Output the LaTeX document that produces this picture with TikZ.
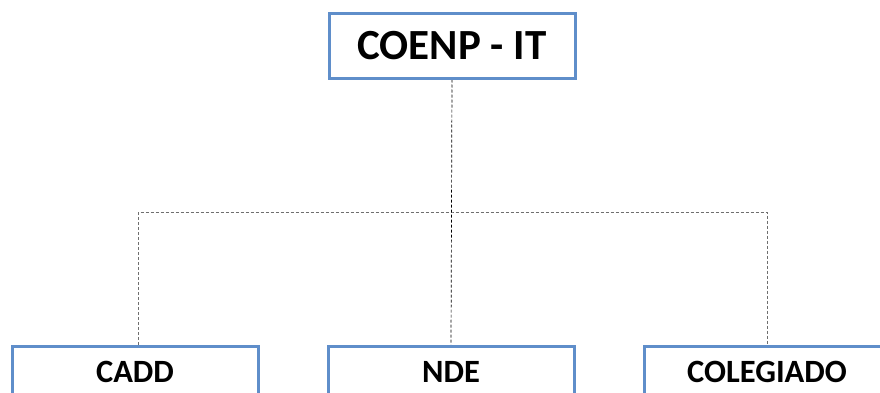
\documentclass[tikz,border=0pt]{standalone}
\usepackage{fontspec}
\setmainfont{Carlito}
\usepackage{tikz}
\usetikzlibrary{positioning}
\usepackage{xcolor}
\definecolor{boxblue}{RGB}{95,142,202}
\definecolor{linegray}{RGB}{110,110,110}

\begin{document}
\begin{tikzpicture}[
    x=1pt, y=1pt,
    node distance=67pt,
    box/.style={rectangle, draw=boxblue, line width=3pt, fill=white, minimum width=246pt, align=center, font=\bfseries},
    topbox/.style={box, minimum height=64pt, font=\fontsize{43}{46}\selectfont\bfseries},
    unitbox/.style={box, minimum height=52pt, font=\fontsize{32.5}{36}\selectfont\bfseries},
    link/.style={dash pattern=on 3pt off 2pt, line width=0.7pt}
]
\useasboundingbox (0,0) rectangle (880,392);

% Nodes
\node[topbox] (coenp) at (452,346) {COENP - IT};
\node[unitbox] (nde) at (451,20) {NDE};
\node[unitbox, left=of nde] (cadd) {CADD};
\node[unitbox, right=of nde] (colegiado) {COLEGIADO};
\coordinate (bus) at (452,180);

% Lines
\draw[link, linegray] (cadd.north -| 138,0) |- (bus) -| (colegiado.north);
\draw[link, black] (coenp.south) -- (nde.north);

% redraw boxes on top
\node[topbox] at (coenp) {COENP - IT};
\node[unitbox] at (nde) {NDE};
\node[unitbox] at (cadd) {CADD};
\node[unitbox] at (colegiado) {COLEGIADO};

\end{tikzpicture}
\end{document}
